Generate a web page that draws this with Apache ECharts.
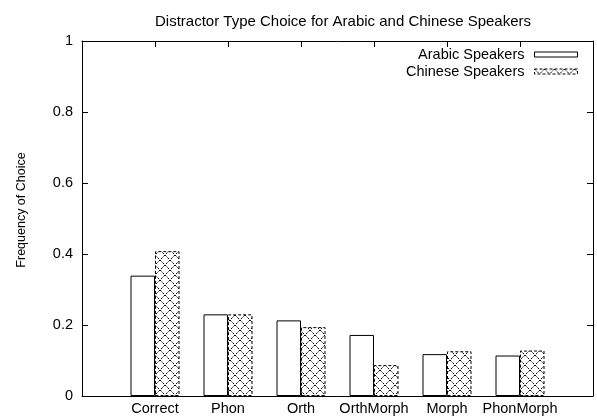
<!DOCTYPE html>
<html>
<head>
<meta charset="utf-8">
<script src="https://cdn.jsdelivr.net/npm/echarts@6/dist/echarts.min.js"></script>
<style>
  html, body { margin: 0; padding: 0; background: #fff; }
  #chart { width: 597px; height: 419px; }
</style>
</head>
<body>
<div id="chart"></div>
<script>
// Distractor categories and choice frequencies per speaker group
const categories = ['Correct', 'Phon', 'Orth', 'OrthMorph', 'Morph', 'PhonMorph'];
const arabicValues = [0.339, 0.230, 0.213, 0.172, 0.118, 0.114];
const chineseValues = [0.408, 0.230, 0.194, 0.087, 0.126, 0.128];
const yTicks = [0, 0.2, 0.4, 0.6, 0.8, 1];

// Padded category list so the axis runs one slot beyond each end
const axisCats = [''].concat(categories, ['']);
const pad = v => [null].concat(v, [null]);

// Crosshatch fill tile
function hatchTile() {
  const c = document.createElement('canvas');
  c.width = 10; c.height = 10;
  const g = c.getContext('2d');
  g.fillStyle = '#fff';
  g.fillRect(0, 0, 10, 10);
  g.strokeStyle = '#000';
  g.lineWidth = 1;
  g.setLineDash([2.2, 1.3]);
  g.beginPath();
  g.moveTo(0, 0); g.lineTo(10, 10);
  g.moveTo(10, 0); g.lineTo(0, 10);
  g.stroke();
  return c;
}

const FONT = 'Liberation Sans, Arial, Helvetica, sans-serif';
const FS = 14.5;
const hatch = { image: hatchTile(), repeat: 'repeat' };
const chart = echarts.init(document.getElementById('chart'), null, { renderer: 'canvas' });

const xBase = {
  type: 'category',
  data: axisCats,
  boundaryGap: false,
  axisLine: { show: true, onZero: false, lineStyle: { color: '#000', width: 1 } },
  axisTick: { show: true, inside: true, length: 6, interval: 0, lineStyle: { color: '#000' } },
  splitLine: { show: false }
};
const yBase = {
  type: 'value',
  min: 0, max: 1, interval: 0.2,
  axisLine: { show: true, lineStyle: { color: '#000', width: 1 } },
  axisTick: { show: true, inside: true, length: 6, lineStyle: { color: '#000' } },
  splitLine: { show: false }
};

chart.setOption({
  animation: false,
  backgroundColor: '#fff',
  textStyle: { fontFamily: FONT },
  title: {
    text: 'Distractor Type Choice for Arabic and Chinese Speakers',
    left: 338, top: 9, textAlign: 'center',
    textStyle: { fontFamily: FONT, fontSize: 15, fontWeight: 'normal', color: '#000' }
  },
  legend: {
    orient: 'vertical',
    align: 'right',
    right: 19, top: 47,
    padding: 0,
    itemWidth: 43, itemHeight: 5,
    itemGap: 2,
    icon: 'rect',
    textStyle: { fontFamily: FONT, fontSize: FS, color: '#000', lineHeight: 15, padding: [0, 5, 0, 0] },
    data: [
      { name: 'Arabic Speakers', itemStyle: { color: '#fff', borderColor: '#000', borderWidth: 1 } },
      { name: 'Chinese Speakers', itemStyle: { color: hatch, borderColor: '#000', borderWidth: 1, borderType: [3, 2] } }
    ]
  },
  grid: { left: 82, right: 4, top: 41, bottom: 23, show: false },
  xAxis: [
    Object.assign({}, xBase, {
      position: 'bottom',
      axisLabel: {
        show: true, interval: 0, margin: 5, color: '#000', fontSize: FS, fontFamily: FONT,
        formatter: v => v
      }
    }),
    Object.assign({}, xBase, {
      position: 'top',
      axisLabel: { show: false }
    })
  ],
  yAxis: [
    Object.assign({}, yBase, {
      position: 'left',
      name: 'Frequency of Choice',
      nameLocation: 'middle',
      nameGap: 54,
      nameRotate: 90,
      nameTextStyle: { fontFamily: FONT, fontSize: 12.5, color: '#000', padding: [0, 0, 0, 17] },
      axisLabel: {
        margin: 9, color: '#000', fontSize: FS, fontFamily: FONT,
        customValues: yTicks,
        formatter: v => String(+v.toFixed(1))
      }
    }),
    Object.assign({}, yBase, {
      position: 'right',
      axisLabel: { show: false }
    })
  ],
  series: [
    {
      name: 'Arabic Speakers',
      type: 'bar',
      data: pad(arabicValues),
      barWidth: 24.5,
      barGap: '0%',
      itemStyle: { color: '#fff', borderColor: '#000', borderWidth: 1 }
    },
    {
      name: 'Chinese Speakers',
      type: 'bar',
      data: pad(chineseValues),
      barWidth: 24.5,
      barGap: '0%',
      itemStyle: {
        color: hatch,
        borderColor: '#000', borderWidth: 1, borderType: [3, 2]
      }
    }
  ]
});
</script>
</body>
</html>
